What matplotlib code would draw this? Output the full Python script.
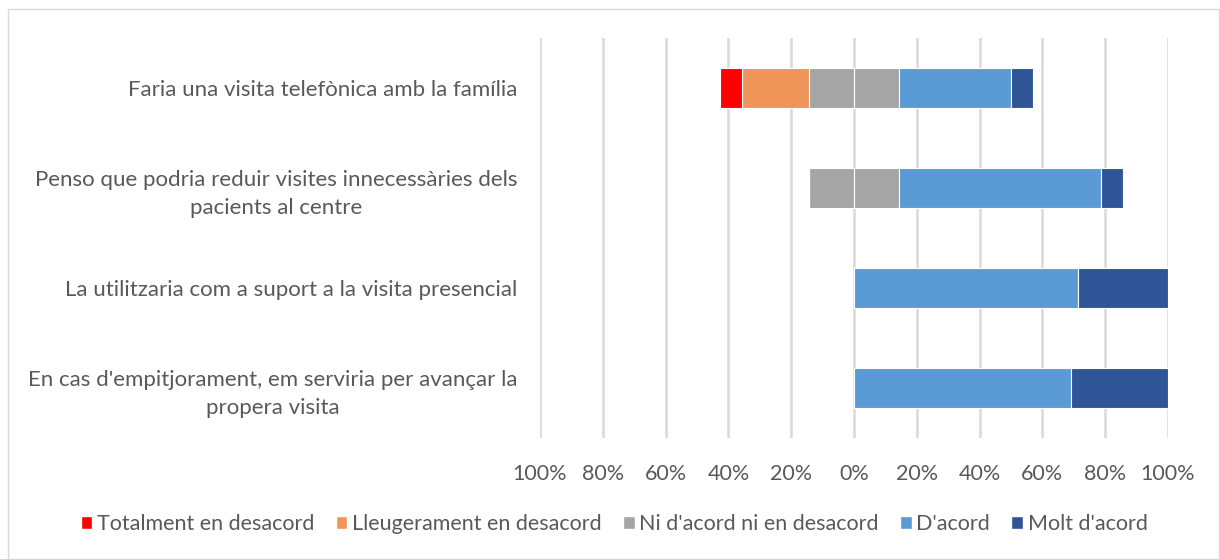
import matplotlib
matplotlib.use("Agg")
import matplotlib.pyplot as plt
import matplotlib.patches as mpatches
from matplotlib.ticker import FuncFormatter
import numpy as np

categories = [
    "Faria una visita telefònica amb la família",
    "Penso que podria reduir visites innecessàries dels\npacients al centre",
    "La utilitzaria com a suport a la visita presencial",
    "En cas d'empitjorament, em serviria per avançar la\npropera visita",
]
series_names = ["Totalment en desacord", "Lleugerament en desacord",
                "Ni d'acord ni en desacord", "D'acord", "Molt d'acord"]
totalment = [7.1, 0, 0, 0]
lleugerament = [21.4, 0, 0, 0]
neutral = [28.6, 28.6, 0, 0]
dacord = [35.7, 64.3, 71.4, 69.2]
molt = [7.1, 7.1, 28.6, 30.8]
colors = ["#FF0000", "#F0965A", "#A5A5A5", "#5B9BD5", "#2F5597"]

plt.rcParams["font.family"] = ["Lato", "DejaVu Sans"]
txt = "#595959"

fig = plt.figure(figsize=(12.2, 5.59), dpi=100)
ax = fig.add_axes([540 / 1220, 1 - 438 / 559, 628 / 1220, 400 / 559])

y = np.arange(len(categories))
h = 0.4
half = np.array(neutral) / 2
kw = dict(height=h, edgecolor="white", linewidth=0.8, zorder=3)
# left side: neutral half, then slight, then total disagreement
ax.barh(y, -half, left=0, color=colors[2], **kw)
ax.barh(y, -np.array(lleugerament), left=-half, color=colors[1], **kw)
ax.barh(y, -np.array(totalment), left=-half - np.array(lleugerament), color=colors[0], **kw)
# right side
ax.barh(y, half, left=0, color=colors[2], **kw)
ax.barh(y, dacord, left=half, color=colors[3], **kw)
ax.barh(y, molt, left=half + np.array(dacord), color=colors[4], **kw)

ax.set_xlim(-100, 100)
ax.set_ylim(len(categories) - 0.5, -0.5)
ax.set_xticks(np.arange(-100, 101, 20))
ax.xaxis.set_major_formatter(FuncFormatter(lambda v, p: f"{abs(v):.0f}%"))
ax.grid(axis="x", color="#D9D9D9", linewidth=1.8, zorder=0)
ax.set_axisbelow(True)
ax.set_yticks(y)
ax.set_yticklabels(categories, multialignment="center", linespacing=1.5)
ax.tick_params(axis="both", length=0, colors=txt)
ax.tick_params(axis="y", pad=16.5, labelsize=16)
ax.tick_params(axis="x", pad=19, labelsize=15.5)
for s in ax.spines.values():
    s.set_visible(False)

handles = [mpatches.Patch(facecolor=c, edgecolor="white", label=n)
           for c, n in zip(colors, series_names)]
leg = fig.legend(handles=handles, loc="center", bbox_to_anchor=(614 / 1220, 1 - 524 / 559),
                 ncol=5, frameon=False, fontsize=15.5, handlelength=0.55, handleheight=0.55,
                 handletextpad=0.2, columnspacing=1.0)
for t in leg.get_texts():
    t.set_color(txt)

fig.patches.append(mpatches.Rectangle((8 / 1220, 0.5 / 559), 1 - 9 / 1220, 1 - 9 / 559,
                                      transform=fig.transFigure, fill=False,
                                      edgecolor="#D9D9D9", linewidth=1))
fig.savefig("out.png", dpi=100, facecolor="white")
